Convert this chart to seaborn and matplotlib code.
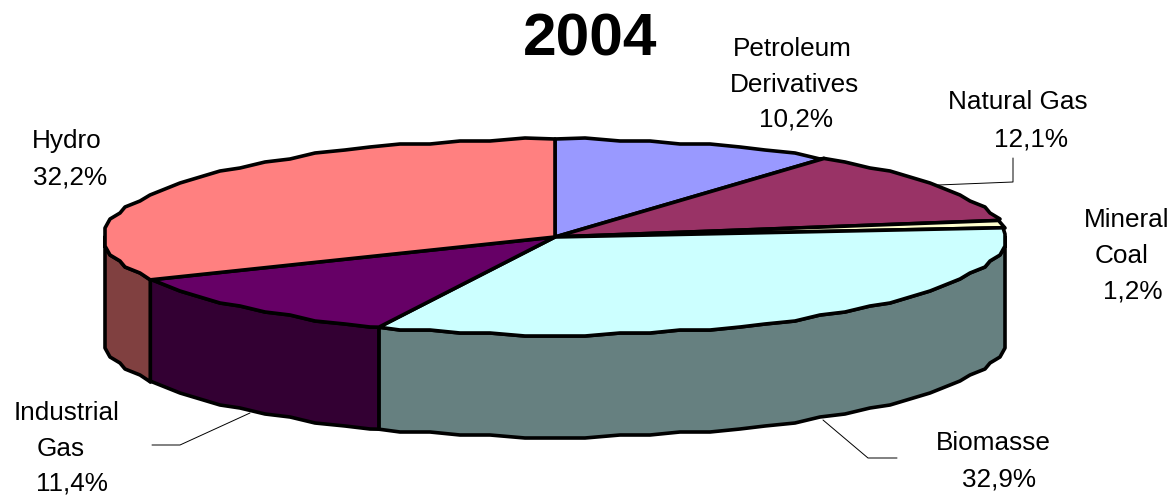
import numpy as np
import seaborn as sns
import matplotlib.pyplot as plt
from matplotlib.colors import to_rgb

title = '2004'
names = ['Petroleum\nDerivatives', 'Natural Gas', 'Mineral\nCoal', 'Biomasse', 'Industrial\nGas', 'Hydro']
shares = [10.2, 12.1, 1.2, 32.9, 11.4, 32.2]
colors = ['#9999FF', '#993366', '#FFFFCC', '#CCFFFF', '#660066', '#FF8080']

# geometry of the tilted pie, in pixels
cx, cy = 555, 237
rx, ry = 450, 98
depth = 102


def rim(a0, a1, drop=0):
    # slightly stepped outline, the original has a coarse edge
    grid = np.arange(0, 364, 4.0)
    grid = grid[(grid > a0) & (grid < a1)]
    t = np.radians(np.r_[a0, grid, a1])
    x = cx + rx * np.sin(t)
    y = cy - ry * np.cos(t)
    x[1:-1] = np.round(x[1:-1] / 5) * 5
    y[1:-1] = np.round(y[1:-1] / 3) * 3
    return x, y + drop


sns.set_theme(style='white')
plt.rcParams['font.family'] = ['Liberation Sans', 'DejaVu Sans']

fig, ax = plt.subplots(figsize=(11.75, 4.95), dpi=100)
fig.subplots_adjust(0, 0, 1, 1)
ax.set_xlim(0, 1175)
ax.set_ylim(495, 0)
ax.axis('off')

edges = np.cumsum([0] + shares) / sum(shares) * 360

# side walls, only the front half of the rim shows
for i in range(len(shares)):
    a0, a1 = max(edges[i], 90), min(edges[i + 1], 270)
    if a1 <= a0:
        continue
    xt, yt = rim(a0, a1)
    xb, yb = rim(a0, a1, depth)
    dark = tuple(c * 0.5 for c in to_rgb(colors[i]))
    if i == 3:
        dark = '#668080'
    if i == 5:
        dark = '#804040'
    ax.fill(np.r_[xt, xb[::-1]], np.r_[yt, yb[::-1]], fc=dark, ec='black', lw=2.6, joinstyle='round')

# top face
for i in range(len(shares)):
    x, y = rim(edges[i], edges[i + 1])
    ax.fill(np.r_[cx, x], np.r_[cy, y], fc=colors[i], ec='black', lw=2.6, joinstyle='round')

# leader lines
ax.plot([938, 1013, 1013], [185, 182, 158], color='black', lw=0.7)
ax.plot([250, 180, 152], [413, 445, 445], color='black', lw=0.7)
ax.plot([823, 868, 897], [420, 458, 458], color='black', lw=0.7)

ax.text(590, 40, title, fontsize=43.5, fontweight='bold', ha='center', va='center', color='black')

label_pos = [[(792, 49), (794, 85), (796, 120)],
             [(1018, 102), (1031, 140)],
             [(1127, 220), (1122, 256), (1133, 292)],
             [(993, 443), (999, 479)],
             [(67, 413), (61, 449), (72, 484)],
             [(67, 141), (70, 177)]]

for name, share, pos in zip(names, shares, label_pos):
    lines = name.split('\n') + [f'{share:.1f}%'.replace('.', ',')]
    for line, (x, y) in zip(lines, pos):
        ax.text(x, y, line, fontsize=18.8, ha='center', va='center', color='black')

plt.savefig('out.png', dpi=100)
